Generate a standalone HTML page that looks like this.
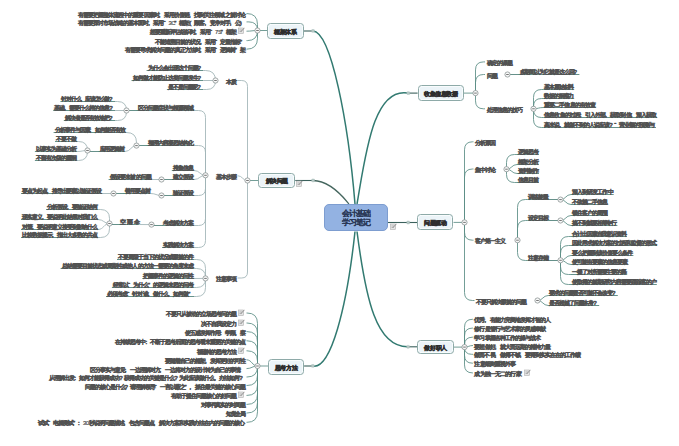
<!DOCTYPE html><html lang="zh"><head><meta charset="utf-8"><title>会计基础 学习笔记</title><style>

*{margin:0;padding:0;box-sizing:border-box}
html,body{width:679px;height:446px;overflow:hidden;background:#fff}
body{position:relative;font-family:"Liberation Sans",sans-serif}
.ln{position:absolute;left:0;top:0}
.ln path{fill:none}
.mn{stroke:#327a71;stroke-width:1.5}
.mn.g{stroke:#46675f;stroke-width:1.3}
.mh{stroke:#3b615c;stroke-width:1.1}
.cn{stroke:#5a8c84;stroke-width:0.85}
.cl{stroke:#9fb3b6;stroke-width:0.85}
.ul{stroke:#55857d;stroke-width:0.9}
.mk{fill:#b7c9c6;stroke:#9fb5b2;stroke-width:0.4}
.jc{fill:#f8f9f9;stroke:#8c9393;stroke-width:0.8}
.jm{stroke:#555;stroke-width:0.8}
.t{position:absolute;white-space:nowrap;font-size:6px;line-height:8px;height:8px;color:#525252;-webkit-text-stroke:0.65px #525252}
.t i,.nd i,.cen i{font-style:normal;display:inline-block;width:5px;text-align:left}
.t i{width:var(--w,5px)}
.t i.n{width:var(--n,2.8px);-webkit-text-stroke:0.2px #525252}
.ic{position:absolute}
.nd{position:absolute;border:1px solid #8eaaa8;border-radius:3.5px;background:#ecf4f8;box-shadow:inset 0 0 0 1px #f8fcfd;display:flex;align-items:center;justify-content:center;white-space:nowrap;font-size:6.1px;line-height:8px;padding-top:1.5px;color:#2e2e2e;-webkit-text-stroke:0.8px #2e2e2e}
.nd i{width:5.6px}
.cen{position:absolute;border:1px solid #7d9dd0;border-radius:5px;background:#93b2e2;display:flex;flex-direction:column;align-items:center;justify-content:center;white-space:nowrap;font-size:7.8px;line-height:9px;padding-top:1px;color:#2a3856;-webkit-text-stroke:0.55px #2a3856}
.cen i{width:7px}

</style></head><body>
<svg class="ln" width="679" height="446" viewBox="0 0 679 446"><path class="mn" d="M355.0 204.0C348.3 122.7 331.2 32.0 313.0 31.0"/><path class="mh" d="M313 31.0H303.8"/><path class="mn" d="M357.0 204.0C365.5 155.6 373.0 86.6 408.3 93.1"/><path class="mh" d="M408.3 93.1H417.6"/><path class="mn g" d="M349.0 204.0C347.1 202.1 332.3 180.9 313.1 180.5"/><path class="mh" d="M313.1 180.5H295.3"/><path class="mn" d="M355.0 231.5C346.7 308.4 330.7 369.6 312.8 366.0"/><path class="mh" d="M312.8 366.0H304.1"/><path class="mn" d="M357.0 231.5C365.8 299.4 376.1 347.4 408.1 346.8"/><path class="mh" d="M408.1 346.8H417.3"/><path class="mh" d="M388 222.5H417.2"/><path class="cn" d="M257.5 30.5L257.5 24.5Q257.5 13.5 246.5 13.5L246.5 13.5"/><path class="cn" d="M257.5 30.5L257.5 30.5Q257.5 21.9 248.9 21.9L246.5 21.9"/><path class="cn" d="M257.5 30.5C252.0 30.5 252.0 31.2 246.5 31.2"/><path class="cn" d="M257.5 30.5L257.5 30.5Q257.5 40.6 247.4 40.6L246.5 40.6"/><path class="cn" d="M257.5 30.5L257.5 38.2Q257.5 49.2 246.5 49.2L246.5 49.2"/><path class="cn" d="M257 30.5H267.5"/><path class="cl" d="M247.5 180.5L247.5 86.5Q247.5 80.5 241.5 80.5L237.5 80.5"/><path class="cl" d="M247.5 180.5C242.5 180.5 242.5 175.7 237.5 175.7"/><path class="cl" d="M247.5 180.5L247.5 272.0Q247.5 278.0 241.5 278.0L237.5 278.0"/><path class="cn" d="M247.5 180.5H258.5"/><path class="ul" d="M146.6 70.5H203.3"/><path class="cl" d="M215.5 80.5L215.5 80.5Q215.5 70.5 205.5 70.5L203.3 70.5"/><path class="ul" d="M131.5 80.5H203.3"/><path class="cl" d="M215.5 80.5L203.3 80.5"/><path class="ul" d="M166.9 89.5H203.3"/><path class="cl" d="M215.5 80.5L215.5 80.5Q215.5 89.5 206.5 89.5L203.3 89.5"/><path class="ul" d="M136.6 110.5H194.0"/><path class="cl" d="M205.5 175.3L205.5 117.5Q205.5 110.5 198.5 110.5L194.0 110.5"/><path class="ul" d="M146.6 145.5H194.0"/><path class="cl" d="M205.5 175.3L205.5 152.5Q205.5 145.5 198.5 145.5L194.0 145.5"/><path class="ul" d="M171.8 170.5H194.0"/><path class="cl" d="M205.5 175.3C199.8 175.3 199.8 170.5 194.0 170.5"/><path class="ul" d="M171.8 179.5H194.0"/><path class="cl" d="M205.5 175.3C199.8 175.3 199.8 179.5 194.0 179.5"/><path class="ul" d="M171.8 195.5H194.0"/><path class="cl" d="M205.5 175.3L205.5 188.5Q205.5 195.5 198.5 195.5L194.0 195.5"/><path class="ul" d="M161.9 225.5H194.0"/><path class="cl" d="M205.5 175.3L205.5 218.5Q205.5 225.5 198.5 225.5L194.0 225.5"/><path class="ul" d="M162.0 247.5H194.0"/><path class="cl" d="M205.5 175.3L205.5 240.5Q205.5 247.5 198.5 247.5L194.0 247.5"/><path class="ul" d="M126.5 110.5H137.6"/><path class="ul" d="M60.4 101.5H115.0"/><path class="cl" d="M126.5 110.5L126.5 110.5Q126.5 101.5 117.5 101.5L115.0 101.5"/><path class="ul" d="M53.2 110.5H115.0"/><path class="cl" d="M126.5 110.5L115.0 110.5"/><path class="ul" d="M63.8 120.5H115.0"/><path class="cl" d="M126.5 110.5L126.5 111.5Q126.5 120.5 117.5 120.5L115.0 120.5"/><path class="ul" d="M136.6 145.5H147.6"/><path class="ul" d="M53.6 132.5H125.0"/><path class="cl" d="M136.5 145.6L136.5 142.5Q136.5 132.5 126.5 132.5L125.0 132.5"/><path class="ul" d="M98.5 151.5H125.0"/><path class="cl" d="M136.5 145.6C130.8 145.6 130.8 151.5 125.0 151.5"/><path class="ul" d="M87.7 151.5H99.5"/><path class="ul" d="M55.0 141.5H77.0"/><path class="cl" d="M87.5 150.5L87.5 150.5Q87.5 141.5 78.5 141.5L77.0 141.5"/><path class="ul" d="M34.9 151.5H77.0"/><path class="cl" d="M87.5 150.5C82.2 150.5 82.2 151.5 77.0 151.5"/><path class="ul" d="M34.9 160.5H77.0"/><path class="cl" d="M87.5 150.5L87.5 151.5Q87.5 160.5 78.5 160.5L77.0 160.5"/><path class="ul" d="M161.4 179.5H172.8"/><path class="ul" d="M108.6 179.5H152.2"/><path class="cl" d="M161.5 179.5L152.2 179.5"/><path class="ul" d="M161.8 195.5H172.8"/><path class="ul" d="M123.5 193.5H150.5"/><path class="cl" d="M161.5 195.5C156.0 195.5 156.0 193.5 150.5 193.5"/><path class="ul" d="M113.3 193.5H124.5"/><path class="ul" d="M21.0 193.5H102.0"/><path class="cl" d="M113.5 193.5L102.0 193.5"/><path class="ul" d="M151.0 225.5H162.9"/><path class="ul" d="M119.3 224.5H139.4"/><path class="cl" d="M151.5 224.6L139.4 224.5"/><path class="ul" d="M109.0 224.5H120.3"/><path class="ul" d="M46.0 209.5H98.0"/><path class="cl" d="M109.5 223.5L109.5 218.5Q109.5 209.5 100.5 209.5L98.0 209.5"/><path class="ul" d="M21.0 219.5H98.0"/><path class="cl" d="M109.5 223.5C103.8 223.5 103.8 219.5 98.0 219.5"/><path class="ul" d="M21.0 229.5H98.0"/><path class="cl" d="M109.5 223.5C103.8 223.5 103.8 229.5 98.0 229.5"/><path class="ul" d="M21.0 237.5H98.0"/><path class="cl" d="M109.5 223.5L109.5 228.5Q109.5 237.5 100.5 237.5L98.0 237.5"/><path class="ul" d="M117.0 259.5H194.5"/><path class="cl" d="M205.5 278.4L205.5 268.5Q205.5 259.5 196.5 259.5L194.5 259.5"/><path class="ul" d="M60.6 268.5H194.5"/><path class="cl" d="M205.5 278.4L205.5 277.5Q205.5 268.5 196.5 268.5L194.5 268.5"/><path class="ul" d="M142.4 278.5H194.5"/><path class="cl" d="M205.5 278.4L194.5 278.5"/><path class="ul" d="M111.9 287.5H194.5"/><path class="cl" d="M205.5 278.4L205.5 278.5Q205.5 287.5 196.5 287.5L194.5 287.5"/><path class="ul" d="M106.0 296.5H194.5"/><path class="cl" d="M205.5 278.4L205.5 287.5Q205.5 296.5 196.5 296.5L194.5 296.5"/><path class="cn" d="M257.5 366.0L257.5 323.5Q257.5 313.0 247.0 313.0L246.5 313.0"/><path class="cn" d="M257.5 366.0L257.5 333.5Q257.5 323.0 247.0 323.0L246.5 323.0"/><path class="cn" d="M257.5 366.0L257.5 342.1Q257.5 331.6 247.0 331.6L246.5 331.6"/><path class="cn" d="M257.5 366.0L257.5 351.3Q257.5 340.8 247.0 340.8L246.5 340.8"/><path class="cn" d="M257.5 366.0L257.5 361.3Q257.5 350.8 247.0 350.8L246.5 350.8"/><path class="cn" d="M257.5 366.0C252.0 366.0 252.0 359.8 246.5 359.8"/><path class="cn" d="M257.5 366.0C252.0 366.0 252.0 368.6 246.5 368.6"/><path class="cn" d="M257.5 366.0L257.5 366.5Q257.5 377.0 247.0 377.0L246.5 377.0"/><path class="cn" d="M257.5 366.0L257.5 375.0Q257.5 385.5 247.0 385.5L246.5 385.5"/><path class="cn" d="M257.5 366.0L257.5 384.9Q257.5 395.4 247.0 395.4L246.5 395.4"/><path class="cn" d="M257.5 366.0L257.5 393.9Q257.5 404.4 247.0 404.4L246.5 404.4"/><path class="cn" d="M257.5 366.0L257.5 402.5Q257.5 413.0 247.0 413.0L246.5 413.0"/><path class="cn" d="M257.5 366.0L257.5 411.8Q257.5 422.3 247.0 422.3L246.5 422.3"/><path class="cn" d="M257.3 366H268"/><path class="cn" d="M475.5 93.1L475.5 69.9Q475.5 61.9 483.5 61.9L485.0 61.9"/><path class="cn" d="M475.5 93.1L475.5 82.5Q475.5 74.5 483.5 74.5L485.0 74.5"/><path class="cn" d="M475.5 93.1L475.5 100.8Q475.5 108.8 483.5 108.8L485.0 108.8"/><path class="cn" d="M464 93.1H475.5"/><path class="ul" d="M518.6 74.5H579.4"/><path class="ul" d="M507.8 74.5H519.6"/><path class="ul" d="M543.3 89.5H574.2"/><path class="cn" d="M533.5 108.8L533.5 97.5Q533.5 89.5 541.5 89.5L543.3 89.5"/><path class="ul" d="M543.3 98.5H574.2"/><path class="cn" d="M533.5 108.8L533.5 106.5Q533.5 98.5 541.5 98.5L543.3 98.5"/><path class="ul" d="M543.3 107.5H595.8"/><path class="cn" d="M533.5 108.8C538.4 108.8 538.4 107.5 543.3 107.5"/><path class="ul" d="M543.3 117.5H657.0"/><path class="cn" d="M533.5 108.8L533.5 109.5Q533.5 117.5 541.5 117.5L543.3 117.5"/><path class="ul" d="M543.3 127.5H656.0"/><path class="cn" d="M533.5 108.8L533.5 119.5Q533.5 127.5 541.5 127.5L543.3 127.5"/><path class="cn" d="M464.5 222.4L464.5 149.8Q464.5 141.8 472.5 141.8L473.5 141.8"/><path class="cn" d="M464.5 222.4L464.5 177.0Q464.5 169.0 472.5 169.0L473.5 169.0"/><path class="cn" d="M464.5 222.4L464.5 232.2Q464.5 240.2 472.5 240.2L473.5 240.2"/><path class="cn" d="M464.5 222.4L464.5 292.5Q464.5 300.5 472.5 300.5L474.5 300.5"/><path class="cn" d="M453.5 222.4H464.6"/><path class="ul" d="M517.0 154.5H539.0"/><path class="cn" d="M506.5 169.2L506.5 162.5Q506.5 154.5 514.5 154.5L517.0 154.5"/><path class="ul" d="M517.0 164.5H539.0"/><path class="cn" d="M506.5 169.2C511.8 169.2 511.8 164.5 517.0 164.5"/><path class="ul" d="M517.0 173.5H539.0"/><path class="cn" d="M506.5 169.2C511.8 169.2 511.8 173.5 517.0 173.5"/><path class="ul" d="M517.0 182.5H539.0"/><path class="cn" d="M506.5 169.2L506.5 174.5Q506.5 182.5 514.5 182.5L517.0 182.5"/><path class="ul" d="M527.3 199.5H560.0"/><path class="cn" d="M517.5 240.2L517.5 207.5Q517.5 199.5 525.5 199.5L527.3 199.5"/><path class="ul" d="M527.3 220.5H560.0"/><path class="cn" d="M517.5 240.2L517.5 228.5Q517.5 220.5 525.5 220.5L527.3 220.5"/><path class="ul" d="M527.3 260.5H560.0"/><path class="cn" d="M517.5 240.2L517.5 252.5Q517.5 260.5 525.5 260.5L527.3 260.5"/><path class="ul" d="M571.0 194.5H613.7"/><path class="cn" d="M560.5 199.6C565.8 199.6 565.8 194.5 571.0 194.5"/><path class="ul" d="M571.0 204.5H607.5"/><path class="cn" d="M560.5 199.6C565.8 199.6 565.8 204.5 571.0 204.5"/><path class="ul" d="M571.0 215.5H608.0"/><path class="cn" d="M560.5 220.5C565.8 220.5 565.8 215.5 571.0 215.5"/><path class="ul" d="M571.0 225.5H617.4"/><path class="cn" d="M560.5 220.5C565.8 220.5 565.8 225.5 571.0 225.5"/><path class="ul" d="M571.0 236.5H627.0"/><path class="cn" d="M560.5 260.3L560.5 244.5Q560.5 236.5 568.5 236.5L571.0 236.5"/><path class="ul" d="M571.0 245.5H656.8"/><path class="cn" d="M560.5 260.3L560.5 253.5Q560.5 245.5 568.5 245.5L571.0 245.5"/><path class="ul" d="M571.0 255.5H633.4"/><path class="cn" d="M560.5 260.3C565.8 260.3 565.8 255.5 571.0 255.5"/><path class="ul" d="M571.0 264.5H628.5"/><path class="cn" d="M560.5 260.3C565.8 260.3 565.8 264.5 571.0 264.5"/><path class="ul" d="M571.0 274.5H627.2"/><path class="cn" d="M560.5 260.3L560.5 266.5Q560.5 274.5 568.5 274.5L571.0 274.5"/><path class="ul" d="M571.0 284.5H656.8"/><path class="cn" d="M560.5 260.3L560.5 276.5Q560.5 284.5 568.5 284.5L571.0 284.5"/><path class="ul" d="M548.2 295.5H617.8"/><path class="cn" d="M537.5 300.5C542.9 300.5 542.9 295.5 548.2 295.5"/><path class="ul" d="M548.2 305.5H599.2"/><path class="cn" d="M537.5 300.5C542.9 300.5 542.9 305.5 548.2 305.5"/><path class="cn" d="M464.5 347.1L464.5 327.3Q464.5 319.3 472.5 319.3L473.0 319.3"/><path class="cn" d="M464.5 347.1L464.5 336.1Q464.5 328.1 472.5 328.1L473.0 328.1"/><path class="cn" d="M464.5 347.1L464.5 345.2Q464.5 337.2 472.5 337.2L473.0 337.2"/><path class="cn" d="M464.5 347.1C468.8 347.1 468.8 345.5 473.0 345.5"/><path class="cn" d="M464.5 347.1L464.5 347.1Q464.5 354.3 471.7 354.3L473.0 354.3"/><path class="cn" d="M464.5 347.1L464.5 355.2Q464.5 363.2 472.5 363.2L473.0 363.2"/><path class="cn" d="M464.5 347.1L464.5 364.9Q464.5 372.9 472.5 372.9L473.0 372.9"/><path class="cn" d="M453.8 347.1H464"/><rect class="mk" x="311.6" y="29.5" width="2.8" height="2.8" rx="0.6"/><rect class="mk" x="406.9" y="91.7" width="2.8" height="2.8" rx="0.6"/><rect class="mk" x="311.7" y="179.0" width="2.8" height="2.8" rx="0.6"/><rect class="mk" x="406.8" y="221.1" width="2.8" height="2.8" rx="0.6"/><rect class="mk" x="311.4" y="364.5" width="2.8" height="2.8" rx="0.6"/><rect class="mk" x="406.7" y="345.4" width="2.8" height="2.8" rx="0.6"/><circle class="jc" cx="257.5" cy="30.5" r="2.6"/><path class="jm" d="M256.2 30.5H258.8"/><circle class="jc" cx="247.5" cy="180.5" r="2.6"/><path class="jm" d="M246.2 180.5H248.8"/><circle class="jc" cx="215.5" cy="80.5" r="2.6"/><path class="jm" d="M214.2 80.5H216.8"/><circle class="jc" cx="205.5" cy="175.3" r="2.6"/><path class="jm" d="M204.2 175.3H206.8"/><circle class="jc" cx="126.5" cy="110.5" r="2.6"/><path class="jm" d="M125.2 110.5H127.8"/><circle class="jc" cx="136.5" cy="145.6" r="2.6"/><path class="jm" d="M135.2 145.6H137.8"/><circle class="jc" cx="87.5" cy="150.5" r="2.6"/><path class="jm" d="M86.2 150.5H88.8"/><circle class="jc" cx="161.5" cy="179.5" r="2.6"/><path class="jm" d="M160.2 179.5H162.8"/><circle class="jc" cx="161.5" cy="195.5" r="2.6"/><path class="jm" d="M160.2 195.5H162.8"/><circle class="jc" cx="113.5" cy="193.5" r="2.6"/><path class="jm" d="M112.2 193.5H114.8"/><circle class="jc" cx="151.5" cy="224.6" r="2.6"/><path class="jm" d="M150.2 224.6H152.8"/><circle class="jc" cx="109.5" cy="223.5" r="2.6"/><path class="jm" d="M108.2 223.5H110.8"/><circle class="jc" cx="205.5" cy="278.4" r="2.6"/><path class="jm" d="M204.2 278.4H206.8"/><circle class="jc" cx="257.5" cy="366.0" r="2.6"/><path class="jm" d="M256.2 366.0H258.8"/><circle class="jc" cx="475.5" cy="93.1" r="2.6"/><path class="jm" d="M474.2 93.1H476.8"/><circle class="jc" cx="507.5" cy="74.5" r="2.6"/><path class="jm" d="M506.2 74.5H508.8"/><circle class="jc" cx="533.5" cy="108.8" r="2.6"/><path class="jm" d="M532.2 108.8H534.8"/><circle class="jc" cx="464.5" cy="222.4" r="2.6"/><path class="jm" d="M463.2 222.4H465.8"/><circle class="jc" cx="506.5" cy="169.2" r="2.6"/><path class="jm" d="M505.2 169.2H507.8"/><circle class="jc" cx="517.5" cy="240.2" r="2.6"/><path class="jm" d="M516.2 240.2H518.8"/><circle class="jc" cx="560.5" cy="199.6" r="2.6"/><path class="jm" d="M559.2 199.6H561.8"/><circle class="jc" cx="560.5" cy="220.5" r="2.6"/><path class="jm" d="M559.2 220.5H561.8"/><circle class="jc" cx="560.5" cy="260.3" r="2.6"/><path class="jm" d="M559.2 260.3H561.8"/><circle class="jc" cx="537.5" cy="300.5" r="2.6"/><path class="jm" d="M536.2 300.5H538.8"/><circle class="jc" cx="464.5" cy="347.1" r="2.6"/><path class="jm" d="M463.2 347.1H465.8"/></svg>
<div class="nd" style="left:267.2px;top:23.3px;width:36.6px;height:15.9px"><span><i>框</i><i>架</i><i>体</i><i>系</i></span></div><div class="nd" style="left:258.2px;top:173.2px;width:37.1px;height:15.1px"><span><i>解</i><i>决</i><i>问</i><i>题</i></span></div><div class="nd" style="left:267.9px;top:359.0px;width:36.2px;height:15.5px"><span><i>思</i><i>考</i><i>方</i><i>法</i></span></div><div class="nd" style="left:417.6px;top:85.4px;width:46.4px;height:15.4px"><span><i>收</i><i>集</i><i>信</i><i>息</i><i>数</i><i>据</i></span></div><div class="nd" style="left:417.2px;top:214.3px;width:36.3px;height:15.5px"><span><i>问</i><i>题</i><i>驱</i><i>动</i></span></div><div class="nd" style="left:417.3px;top:339.9px;width:36.5px;height:14.4px"><span><i>做</i><i>好</i><i>职</i><i>人</i></span></div>
<div class="cen" style="left:324px;top:204px;width:64px;height:27.4px"><div><i>会</i><i>计</i><i>基</i><i>础</i></div><div><i>学</i><i>习</i><i>笔</i><i>记</i></div></div>
<div class="t" style="left:77.7px;top:10.5px;--w:5.07px;--n:2.84px"><i>有</i><i>需</i><i>要</i><i>把</i><i>握</i><i>整</i><i>体</i><i>流</i><i>程</i><i>中</i><i>的</i><i>重</i><i>要</i><i>因</i><i>素</i><i>时</i><i>,</i><i>采</i><i>用</i><i>价</i><i>值</i><i>链</i><i>,</i><i>找</i><i>到</i><i>关</i><i>注</i><i>领</i><i>域</i><i>之</i><i>前</i><i>讨</i><i>论</i></div><div class="t" style="left:77.7px;top:18.9px;--w:5.05px;--n:2.83px"><i>有</i><i>需</i><i>要</i><i>探</i><i>讨</i><i>市</i><i>场</i><i>战</i><i>略</i><i>的</i><i>基</i><i>本</i><i>面</i><i>时</i><i>,</i><i>采</i><i>用</i><i>“</i><i class="n">3</i><i class="n">C</i><i>”</i><i>框</i><i>架</i><i>(</i><i>顾</i><i>客</i><i>,</i><i>竞</i><i>争</i><i>对</i><i>手</i><i>,</i><i>公</i><i>)</i></div><div class="t" style="left:149.5px;top:28.2px;--w:5.05px;--n:2.83px"><i>想</i><i>要</i><i>重</i><i>新</i><i>评</i><i>估</i><i>组</i><i>织</i><i>时</i><i>,</i><i>采</i><i>用</i><i>“</i><i class="n">7</i><i class="n">S</i><i>”</i><i>框</i><i>架</i></div><svg class="ic" style="left:238.3px;top:27.2px" width="7" height="7" viewBox="0 0 7 7"><rect x="0.5" y="1" width="5" height="5.5" fill="#e4e4e4" stroke="#b0b0b0" stroke-width="0.6"/><path d="M1.5 3h3M1.5 4.5h2.5" stroke="#9a9a9a" stroke-width="0.6"/><path d="M3 4.5L6.5 0.8" stroke="#8a8a8a" stroke-width="0.9"/></svg><div class="t" style="left:155.1px;top:37.6px"><i>不</i><i>能</i><i>追</i><i>溯</i><i>目</i><i>前</i><i>的</i><i>状</i><i>况</i><i>,</i><i>采</i><i>用</i><i>“</i><i>定</i><i>量</i><i>指</i><i>标</i><i>”</i></div><div class="t" style="left:124.8px;top:46.2px"><i>有</i><i>需</i><i>要</i><i>寻</i><i>求</i><i>解</i><i>决</i><i>问</i><i>题</i><i>的</i><i>真</i><i>正</i><i>方</i><i>法</i><i>时</i><i>,</i><i>采</i><i>用</i><i>“</i><i>逻</i><i>辑</i><i>树</i><i>”</i><i>架</i></div><div class="t" style="left:226.0px;top:77.5px"><i>本</i><i>质</i></div><div class="t" style="left:216.0px;top:172.7px"><i>基</i><i>本</i><i>步</i><i>骤</i></div><div class="t" style="left:216.0px;top:275.4px"><i>注</i><i>意</i><i>事</i><i>项</i></div><div class="t" style="left:147.6px;top:64.1px"><i>为</i><i>什</i><i>么</i><i>会</i><i>出</i><i>现</i><i>这</i><i>个</i><i>问</i><i>题</i><i>?</i></div><div class="t" style="left:132.5px;top:73.6px"><i>如</i><i>何</i><i>做</i><i>才</i><i>能</i><i>防</i><i>止</i><i>这</i><i>类</i><i>问</i><i>题</i><i>发</i><i>生</i><i>?</i></div><div class="t" style="left:167.9px;top:83.0px;--w:4.91px;--n:2.75px"><i>是</i><i>不</i><i>是</i><i>问</i><i>题</i><i>呢</i><i>?</i></div><div class="t" style="left:137.6px;top:104.4px"><i>区</i><i>分</i><i>问</i><i>题</i><i>症</i><i>状</i><i>与</i><i>根</i><i>源</i><i>领</i><i>域</i></div><div class="t" style="left:147.6px;top:139.3px"><i>整</i><i>理</i><i>内</i><i>容</i><i>凝</i><i>思</i><i>结</i><i>构</i><i>化</i></div><div class="t" style="left:172.8px;top:163.7px"><i>搜</i><i>集</i><i>信</i><i>息</i></div><div class="t" style="left:172.8px;top:173.3px"><i>建</i><i>立</i><i>假</i><i>设</i></div><div class="t" style="left:172.8px;top:188.7px"><i>验</i><i>证</i><i>假</i><i>设</i></div><div class="t" style="left:162.9px;top:218.5px"><i>考</i><i>虑</i><i>解</i><i>决</i><i>方</i><i>案</i></div><div class="t" style="left:163.0px;top:240.9px"><i>实</i><i>践</i><i>解</i><i>决</i><i>方</i><i>案</i></div><div class="t" style="left:61.4px;top:94.6px;--w:4.78px;--n:2.68px"><i>针</i><i>对</i><i>什</i><i>么</i><i>,</i><i>应</i><i>该</i><i>怎</i><i>么</i><i>做</i><i>?</i></div><div class="t" style="left:54.2px;top:104.2px"><i>基</i><i>础</i><i>,</i><i>需</i><i>要</i><i>什</i><i>么</i><i>样</i><i>的</i><i>信</i><i>息</i><i>?</i></div><div class="t" style="left:64.8px;top:114.0px;--w:4.92px;--n:2.76px"><i>解</i><i>决</i><i>者</i><i>是</i><i>否</i><i>有</i><i>效</i><i>地</i><i>把</i><i>?</i></div><div class="t" style="left:54.6px;top:126.1px"><i>分</i><i>析</i><i>事</i><i>件</i><i>与</i><i>因</i><i>素</i><i>,</i><i>如</i><i>何</i><i>能</i><i>否</i><i>有</i><i>效</i></div><div class="t" style="left:99.5px;top:144.5px;--w:4.90px;--n:2.74px"><i>应</i><i>用</i><i>逻</i><i>辑</i><i>树</i></div><div class="t" style="left:56.0px;top:135.0px"><i>不</i><i>要</i><i>不</i><i>做</i></div><div class="t" style="left:35.9px;top:144.5px"><i>以</i><i>事</i><i>实</i><i>为</i><i>基</i><i>础</i><i>分</i><i>析</i></div><div class="t" style="left:35.9px;top:153.5px"><i>不</i><i>留</i><i>有</i><i>次</i><i>级</i><i>的</i><i>漏</i><i>洞</i></div><div class="t" style="left:109.6px;top:173.3px;--w:5.20px;--n:2.91px"><i>假</i><i>设</i><i>要</i><i>来</i><i>被</i><i>的</i><i>问</i><i>题</i></div><div class="t" style="left:124.5px;top:187.2px"><i>善</i><i>用</i><i>要</i><i>点</i><i>树</i></div><div class="t" style="left:22.0px;top:186.7px;--w:4.94px;--n:2.77px"><i>要</i><i>点</i><i>为</i><i>起</i><i>点</i><i>,</i><i>推</i><i>导</i><i>出</i><i>要</i><i>素</i><i>以</i><i>验</i><i>证</i><i>假</i><i>设</i></div><div class="t" style="left:120.3px;top:217.5px;--w:4.39px;--n:2.46px"><i>空</i><i class="n">·</i><i>雨</i><i class="n">·</i><i>伞</i></div><div class="t" style="left:47.0px;top:203.0px"><i>分</i><i>析</i><i>假</i><i>设</i><i>,</i><i>要</i><i>验</i><i>证</i><i>结</i><i>何</i></div><div class="t" style="left:22.0px;top:212.7px"><i>现</i><i>实</i><i>意</i><i>义</i><i>,</i><i>要</i><i>说</i><i>明</i><i>此</i><i>结</i><i>果</i><i>对</i><i>我</i><i>们</i><i>么</i></div><div class="t" style="left:22.0px;top:222.6px"><i>对</i><i>策</i><i>,</i><i>要</i><i>说</i><i>明</i><i>意</i><i>义</i><i>接</i><i>受</i><i>到</i><i>影</i><i>响</i><i>什</i><i>么</i></div><div class="t" style="left:22.0px;top:231.4px"><i>比</i><i>较</i><i>数</i><i>据</i><i>提</i><i>示</i><i>,</i><i>指</i><i>出</i><i>大</i><i>多</i><i>数</i><i>的</i><i>共</i><i>点</i></div><div class="t" style="left:118.0px;top:252.6px"><i>不</i><i>要</i><i>局</i><i>限</i><i>于</i><i>当</i><i>下</i><i>的</i><i>状</i><i>况</i><i>或</i><i>眼</i><i>前</i><i>的</i><i>件</i></div><div class="t" style="left:61.6px;top:261.9px;--w:5.07px;--n:2.84px"><i>总</i><i>结</i><i>需</i><i>要</i><i>目</i><i>前</i><i>状</i><i>态</i><i>或</i><i>周</i><i>期</i><i>性</i><i>或</i><i>他</i><i>人</i><i>的</i><i>方</i><i>法</i><i>一</i><i>需</i><i>要</i><i>的</i><i>角</i><i>度</i><i>来</i><i>虑</i></div><div class="t" style="left:143.4px;top:271.8px"><i>把</i><i>握</i><i>事</i><i>件</i><i>的</i><i>逻</i><i>辑</i><i>的</i><i>问</i><i>性</i></div><div class="t" style="left:112.9px;top:281.3px"><i>经</i><i>常</i><i>以</i><i>“</i><i>为</i><i>什</i><i>么</i><i>”</i><i>的</i><i>逻</i><i>辑</i><i>来</i><i>思</i><i>的</i><i>问</i><i>考</i></div><div class="t" style="left:107.0px;top:290.2px;--w:5.09px;--n:2.85px"><i>必</i><i>须</i><i>考</i><i>虑</i><i>“</i><i>针</i><i>对</i><i>谁</i><i>,</i><i>做</i><i>什</i><i>么</i><i>,</i><i>如</i><i>何</i><i>做</i><i>”</i></div><div class="t" style="left:165.9px;top:310.0px"><i>不</i><i>要</i><i>只</i><i>从</i><i>被</i><i>动</i><i>的</i><i>立</i><i>场</i><i>思</i><i>考</i><i>问</i><i>的</i><i>题</i></div><svg class="ic" style="left:238.3px;top:309.0px" width="7" height="7" viewBox="0 0 7 7"><rect x="0.5" y="1" width="5" height="5.5" fill="#e4e4e4" stroke="#b0b0b0" stroke-width="0.6"/><path d="M1.5 3h3M1.5 4.5h2.5" stroke="#9a9a9a" stroke-width="0.6"/><path d="M3 4.5L6.5 0.8" stroke="#8a8a8a" stroke-width="0.9"/></svg><div class="t" style="left:201.0px;top:320.0px"><i>决</i><i>不</i><i>自</i><i>我</i><i>设</i><i>定</i><i>力</i></div><svg class="ic" style="left:238.3px;top:319.0px" width="7" height="7" viewBox="0 0 7 7"><rect x="0.5" y="1" width="5" height="5.5" fill="#e4e4e4" stroke="#b0b0b0" stroke-width="0.6"/><path d="M1.5 3h3M1.5 4.5h2.5" stroke="#9a9a9a" stroke-width="0.6"/><path d="M3 4.5L6.5 0.8" stroke="#8a8a8a" stroke-width="0.9"/></svg><div class="t" style="left:185.0px;top:328.6px"><i>使</i><i>五</i><i>感</i><i>发</i><i>挥</i><i>作</i><i>用</i><i>:</i><i>学</i><i>顾</i><i>,</i><i>察</i></div><div class="t" style="left:115.4px;top:337.8px"><i>在</i><i>持</i><i>续</i><i>思</i><i>考</i><i>中</i><i>:</i><i>不</i><i>断</i><i>于</i><i>思</i><i>考</i><i>后</i><i>面</i><i>的</i><i>思</i><i>考</i><i>看</i><i>来</i><i>重</i><i>要</i><i>的</i><i>关</i><i>键</i><i>的</i><i>点</i></div><div class="t" style="left:196.5px;top:347.8px;--w:4.91px;--n:2.75px"><i>福</i><i>瑞</i><i>特</i><i>的</i><i>思</i><i>考</i><i>方</i><i>法</i></div><svg class="ic" style="left:238.3px;top:346.8px" width="7" height="7" viewBox="0 0 7 7"><rect x="0.5" y="1" width="5" height="5.5" fill="#e4e4e4" stroke="#b0b0b0" stroke-width="0.6"/><path d="M1.5 3h3M1.5 4.5h2.5" stroke="#9a9a9a" stroke-width="0.6"/><path d="M3 4.5L6.5 0.8" stroke="#8a8a8a" stroke-width="0.9"/></svg><div class="t" style="left:164.9px;top:356.8px"><i>要</i><i>随</i><i>着</i><i>自</i><i>己</i><i>的</i><i>框</i><i>架</i><i>,</i><i>发</i><i>挥</i><i>更</i><i>好</i><i>的</i><i>可</i><i>性</i></div><div class="t" style="left:89.6px;top:365.6px"><i>区</i><i>分</i><i>事</i><i>实</i><i>与</i><i>意</i><i>见</i><i>:</i><i>一</i><i>边</i><i>理</i><i>解</i><i>对</i><i>方</i><i>,</i><i>一</i><i>边</i><i>将</i><i>对</i><i>方</i><i>的</i><i>设</i><i>计</i><i>转</i><i>为</i><i>自</i><i>己</i><i>的</i><i>事</i><i>情</i><i>.</i></div><div class="t" style="left:49.2px;top:374.0px"><i>从</i><i>理</i><i>解</i><i>出</i><i>发</i><i>:</i><i>如</i><i>何</i><i>才</i><i>能</i><i>获</i><i>得</i><i>成</i><i>功</i><i>?</i><i>获</i><i>得</i><i>成</i><i>功</i><i>的</i><i>关</i><i>键</i><i>是</i><i>什</i><i>么</i><i>?</i><i>为</i><i>此</i><i>应</i><i>该</i><i>做</i><i>什</i><i>么</i><i>,</i><i>办</i><i>法</i><i>如</i><i>何</i><i>?</i></div><div class="t" style="left:84.6px;top:382.5px"><i>问</i><i>题</i><i>的</i><i>核</i><i>心</i><i>是</i><i>什</i><i>么</i><i>?</i><i>请</i><i>理</i><i>解</i><i>领</i><i>导</i><i>“</i><i>一</i><i>言</i><i>以</i><i>蔽</i><i>之</i><i>”</i><i>,</i><i>抓</i><i>住</i><i>最</i><i>关</i><i>键</i><i>的</i><i>核</i><i>心</i><i>问</i><i>题</i></div><div class="t" style="left:170.7px;top:392.4px"><i>有</i><i>助</i><i>于</i><i>提</i><i>住</i><i>问</i><i>题</i><i>核</i><i>心</i><i>的</i><i>好</i><i>问</i><i>题</i></div><svg class="ic" style="left:238.3px;top:391.4px" width="7" height="7" viewBox="0 0 7 7"><rect x="0.5" y="1" width="5" height="5.5" fill="#e4e4e4" stroke="#b0b0b0" stroke-width="0.6"/><path d="M1.5 3h3M1.5 4.5h2.5" stroke="#9a9a9a" stroke-width="0.6"/><path d="M3 4.5L6.5 0.8" stroke="#8a8a8a" stroke-width="0.9"/></svg><div class="t" style="left:201.0px;top:401.4px;--w:4.82px;--n:2.70px"><i>对</i><i>事</i><i>件</i><i>真</i><i>实</i><i>的</i><i>时</i><i>间</i><i>题</i></div><div class="t" style="left:226.0px;top:410.0px;--w:4.60px;--n:2.58px"><i>知</i><i>觉</i><i>全</i><i>局</i></div><div class="t" style="left:38.0px;top:419.3px"><i>试</i><i>试</i><i>“</i><i>电</i><i>梯</i><i>测</i><i>试</i><i>”</i><i>:</i><i class="n">3</i><i class="n">0</i><i>秒</i><i>说</i><i>明</i><i>问</i><i>题</i><i>描</i><i>述</i><i>,</i><i>包</i><i>含</i><i>问</i><i>题</i><i>点</i><i>,</i><i>解</i><i>决</i><i>方</i><i>案</i><i>和</i><i>实</i><i>践</i><i>办</i><i>法</i><i>在</i><i>内</i><i>的</i><i>问</i><i>题</i><i>的</i><i>核</i><i>心</i></div><div class="t" style="left:486.6px;top:58.9px"><i>确</i><i>定</i><i>的</i><i>课</i><i>题</i></div><div class="t" style="left:486.6px;top:71.5px"><i>问</i><i>题</i></div><div class="t" style="left:486.6px;top:105.8px"><i>处</i><i>理</i><i>信</i><i>息</i><i>的</i><i>技</i><i>巧</i></div><div class="t" style="left:519.6px;top:67.7px;--w:4.90px;--n:2.74px"><i>多</i><i>期</i><i>间</i><i>以</i><i>为</i><i>它</i><i>就</i><i>是</i><i>这</i><i>么</i><i>回</i><i>?</i></div><div class="t" style="left:544.3px;top:83.2px;--w:4.82px;--n:2.70px"><i>基</i><i>本</i><i>原</i><i>始</i><i>材</i><i>料</i></div><div class="t" style="left:544.3px;top:92.0px;--w:4.82px;--n:2.70px"><i>数</i><i>据</i><i>的</i><i>洞</i><i>察</i><i>力</i></div><div class="t" style="left:544.3px;top:101.3px;--w:5.05px;--n:2.83px"><i>重</i><i>要</i><i>二</i><i>手</i><i>信</i><i>息</i><i>的</i><i>有</i><i>效</i><i>查</i></div><div class="t" style="left:544.3px;top:111.0px;--w:5.08px;--n:2.84px"><i>信</i><i>息</i><i>收</i><i>集</i><i>的</i><i>过</i><i>程</i><i>:</i><i>引</i><i>入</i><i>外</i><i>部</i><i>,</i><i>获</i><i>取</i><i>到</i><i>信</i><i>,</i><i>深</i><i>入</i><i>获</i><i>取</i></div><div class="t" style="left:544.3px;top:120.9px"><i>高</i><i>来</i><i>说</i><i>,</i><i>就</i><i>做</i><i>不</i><i>到</i><i>的</i><i>人</i><i>说</i><i>应</i><i>该</i><i>?</i><i>“</i><i>营</i><i>业</i><i>额</i><i>的</i><i>预</i><i>测</i><i>与</i></div><div class="t" style="left:475.2px;top:138.8px"><i>分</i><i>析</i><i>原</i><i>因</i></div><div class="t" style="left:475.2px;top:166.0px"><i>集</i><i>中</i><i>讨</i><i>论</i></div><div class="t" style="left:475.2px;top:237.2px"><i>客</i><i>户</i><i>第</i><i>一</i><i>主</i><i>义</i></div><div class="t" style="left:476.2px;top:297.5px"><i>不</i><i>要</i><i>只</i><i>解</i><i>决</i><i>眼</i><i>前</i><i>的</i><i>问</i><i>题</i></div><div class="t" style="left:518.0px;top:148.2px"><i>逻</i><i>辑</i><i>思</i><i>考</i></div><div class="t" style="left:518.0px;top:157.8px"><i>框</i><i>架</i><i>分</i><i>析</i></div><div class="t" style="left:518.0px;top:167.3px"><i>资</i><i>料</i><i>制</i><i>作</i></div><div class="t" style="left:518.0px;top:176.2px"><i>信</i><i>息</i><i>目</i><i>前</i></div><div class="t" style="left:528.3px;top:193.3px"><i>训</i><i>练</i><i>能</i><i>量</i></div><div class="t" style="left:528.3px;top:214.2px"><i>设</i><i>定</i><i>目</i><i>标</i></div><div class="t" style="left:528.3px;top:254.0px"><i>注</i><i>意</i><i>存</i><i>储</i></div><div class="t" style="left:572.0px;top:188.0px;--w:5.09px;--n:2.85px"><i>深</i><i>入</i><i>到</i><i>研</i><i>发</i><i>工</i><i>作</i><i>中</i></div><div class="t" style="left:572.0px;top:198.0px;--w:4.93px;--n:2.76px"><i>不</i><i>依</i><i>赖</i><i>二</i><i>手</i><i>信</i><i>息</i></div><div class="t" style="left:572.0px;top:209.0px"><i>锁</i><i>住</i><i>客</i><i>户</i><i>的</i><i>周</i><i>围</i></div><div class="t" style="left:572.0px;top:218.9px;--w:4.93px;--n:2.76px"><i>搞</i><i>不</i><i>到</i><i>就</i><i>要</i><i>相</i><i>等</i><i>专</i><i>行</i></div><div class="t" style="left:572.0px;top:230.0px;--w:4.91px;--n:2.75px"><i>合</i><i>计</i><i>出</i><i>因</i><i>素</i><i>自</i><i>我</i><i>意</i><i>识</i><i>资</i><i>料</i></div><div class="t" style="left:572.0px;top:239.3px;--w:4.93px;--n:2.76px"><i>因</i><i>此</i><i>寻</i><i>求</i><i>解</i><i>决</i><i>方</i><i>案</i><i>的</i><i>过</i><i>程</i><i>和</i><i>监</i><i>督</i><i>的</i><i>形</i><i>式</i></div><div class="t" style="left:572.0px;top:249.2px"><i>要</i><i>么</i><i>把</i><i>握</i><i>到</i><i>该</i><i>价</i><i>值</i><i>要</i><i>么</i><i>条</i><i>件</i></div><div class="t" style="left:572.0px;top:258.3px"><i>使</i><i>可</i><i>能</i><i>有</i><i>要</i><i>素</i><i>的</i><i>信</i><i>息</i><i>要</i><i>素</i></div><div class="t" style="left:572.0px;top:268.2px;--w:4.93px;--n:2.76px"><i>一</i><i>提</i><i>了</i><i>对</i><i>所</i><i>需</i><i>要</i><i>主</i><i>要</i><i>的</i><i>释</i></div><div class="t" style="left:572.0px;top:278.0px;--w:4.93px;--n:2.76px"><i>使</i><i>取</i><i>得</i><i>的</i><i>前</i><i>期</i><i>研</i><i>究</i><i>内</i><i>容</i><i>需</i><i>要</i><i>跟</i><i>踪</i><i>客</i><i>的</i><i>户</i></div><div class="t" style="left:549.2px;top:288.7px;--w:4.83px;--n:2.70px"><i>要</i><i>求</i><i>的</i><i>问</i><i>题</i><i>是</i><i>否</i><i>可</i><i>能</i><i>不</i><i>会</i><i>改</i><i>变</i><i>?</i></div><div class="t" style="left:549.2px;top:299.3px;--w:4.90px;--n:2.74px"><i>是</i><i>否</i><i>超</i><i>越</i><i>了</i><i>问</i><i>题</i><i>本</i><i>身</i><i>?</i></div><div class="t" style="left:474.4px;top:316.3px;--w:5.07px;--n:2.84px"><i>优</i><i>秀</i><i>,</i><i>有</i><i>能</i><i>力</i><i>完</i><i>美</i><i>地</i><i>发</i><i>挥</i><i>才</i><i>智</i><i>的</i><i>人</i></div><div class="t" style="left:474.4px;top:325.1px;--w:5.07px;--n:2.84px"><i>修</i><i>行</i><i>是</i><i>管</i><i>行</i><i>与</i><i>艺</i><i>术</i><i>家</i><i>的</i><i>灵</i><i>感</i><i>奉</i><i>献</i></div><div class="t" style="left:474.4px;top:334.2px;--w:5.08px;--n:2.84px"><i>学</i><i>习</i><i>掌</i><i>握</i><i>各</i><i>种</i><i>工</i><i>作</i><i>的</i><i>操</i><i>与</i><i>战</i><i>术</i></div><div class="t" style="left:474.4px;top:342.5px;--w:5.07px;--n:2.84px"><i>要</i><i>想</i><i>做</i><i>好</i><i>,</i><i>就</i><i>大</i><i>而</i><i>远</i><i>期</i><i>的</i><i>精</i><i>神</i><i>力</i><i>量</i></div><div class="t" style="left:474.4px;top:351.3px;--w:5.06px;--n:2.83px"><i>做</i><i>而</i><i>不</i><i>畏</i><i>,</i><i>做</i><i>得</i><i>不</i><i>够</i><i>,</i><i>要</i><i>得</i><i>到</i><i>实</i><i>实</i><i>在</i><i>在</i><i>的</i><i>工</i><i>作</i><i>绩</i></div><div class="t" style="left:474.4px;top:360.2px;--w:5.11px;--n:2.86px"><i>注</i><i>意</i><i>细</i><i>则</i><i>重</i><i>视</i><i>外</i><i>事</i></div><div class="t" style="left:474.4px;top:369.9px;--w:5.16px;--n:2.89px"><i>成</i><i>为</i><i>独</i><i>一</i><i>无</i><i>二</i><i>的</i><i>行</i><i>家</i></div><svg class="ic" style="left:523.8px;top:368.9px" width="7" height="7" viewBox="0 0 7 7"><rect x="0.5" y="1" width="5" height="5.5" fill="#e4e4e4" stroke="#b0b0b0" stroke-width="0.6"/><path d="M1.5 3h3M1.5 4.5h2.5" stroke="#9a9a9a" stroke-width="0.6"/><path d="M3 4.5L6.5 0.8" stroke="#8a8a8a" stroke-width="0.9"/></svg><svg class="ic" style="left:295.8px;top:179.8px" width="7" height="7" viewBox="0 0 7 7"><rect x="0.5" y="1" width="5" height="5.5" fill="#e4e4e4" stroke="#b0b0b0" stroke-width="0.6"/><path d="M1.5 3h3M1.5 4.5h2.5" stroke="#9a9a9a" stroke-width="0.6"/><path d="M3 4.5L6.5 0.8" stroke="#8a8a8a" stroke-width="0.9"/></svg><svg class="ic" style="left:389.8px;top:223.2px" width="7" height="7" viewBox="0 0 7 7"><rect x="0.5" y="1" width="5" height="5.5" fill="#e4e4e4" stroke="#b0b0b0" stroke-width="0.6"/><path d="M1.5 3h3M1.5 4.5h2.5" stroke="#9a9a9a" stroke-width="0.6"/><path d="M3 4.5L6.5 0.8" stroke="#8a8a8a" stroke-width="0.9"/></svg>
</body></html>
